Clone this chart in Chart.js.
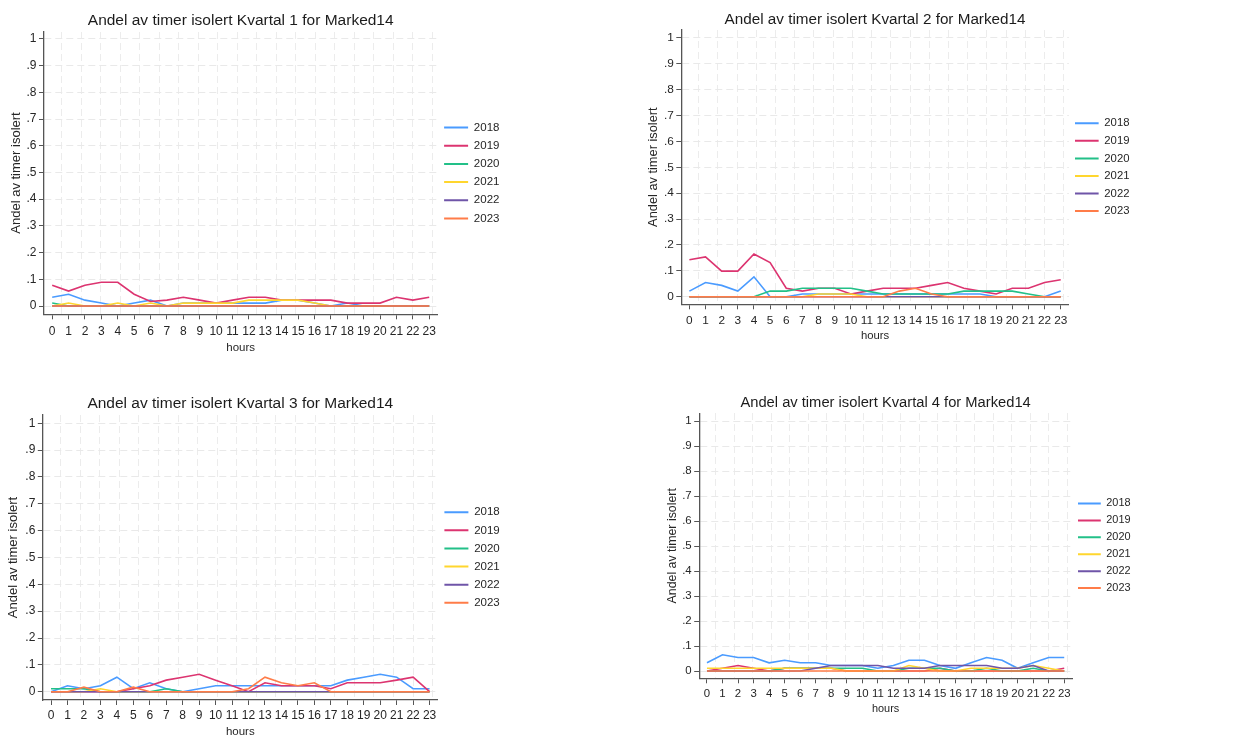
<!DOCTYPE html>
<html><head><meta charset="utf-8">
<script src="https://cdn.jsdelivr.net/npm/chart.js@4/dist/chart.umd.min.js"></script>
<style>
html,body{margin:0;padding:0;background:#fff;width:1233px;height:739px;overflow:hidden;position:relative}
canvas{position:absolute}
</style></head><body>
<canvas id="c1"></canvas><canvas id="c2"></canvas><canvas id="c3"></canvas><canvas id="c4"></canvas>
<script>
// ---------- data ----------
const hours = ['0','1','2','3','4','5','6','7','8','9','10','11','12','13','14','15','16','17','18','19','20','21','22','23'];
const years = ['2018','2019','2020','2021','2022','2023'];
const yTickValues = [0,0.1,0.2,0.3,0.4,0.5,0.6,0.7,0.8,0.9,1];
const yTickLabels = ['0','.1','.2','.3','.4','.5','.6','.7','.8','.9','1'];
const yAxisTitle = 'Andel av timer isolert';
const xAxisTitle = 'hours';
const titles = [
  'Andel av timer isolert Kvartal 1 for Marked14',
  'Andel av timer isolert Kvartal 2 for Marked14',
  'Andel av timer isolert Kvartal 3 for Marked14',
  'Andel av timer isolert Kvartal 4 for Marked14'
];

// Kvartal 1
const q1_2018 = [.033,.044,.022,.011,0,.011,.022,0,.011,.011,.011,.011,.011,.011,.022,.022,.011,0,.011,0,0,0,0,0];
const q1_2019 = [.078,.056,.078,.089,.089,.044,.017,.022,.033,.022,.011,.022,.033,.033,.022,.022,.022,.022,.011,.011,.011,.033,.022,.033];
const q1_2020 = [.011,0,0,0,0,0,0,0,0,0,0,0,0,0,0,0,0,0,0,0,0,0,0,0];
const q1_2021 = [0,.011,0,0,.011,0,.011,0,.011,.011,.011,.011,.022,.022,.022,.022,.011,0,0,0,0,0,0,0];
const q1_2022 = [0,0,0,0,0,0,0,0,0,0,0,0,0,0,0,0,0,0,0,0,0,0,0,0];
const q1_2023 = [0,0,0,0,0,0,0,0,0,0,0,0,0,0,0,0,0,0,0,0,0,0,0,0];

// Kvartal 2
const q2_2018 = [.022,.055,.044,.022,.077,0,0,.011,.011,.011,.011,.011,.011,.011,.011,.011,.011,.011,.011,0,0,0,0,.022];
const q2_2019 = [.143,.154,.099,.099,.165,.132,.033,.022,.033,.033,.011,.022,.033,.033,.033,.044,.055,.033,.022,.011,.033,.033,.055,.066];
const q2_2020 = [0,0,0,0,0,.022,.022,.033,.033,.033,.033,.022,.011,.011,.011,.011,.011,.022,.022,.022,.022,.011,0,0];
const q2_2021 = [0,0,0,0,0,0,0,0,.011,.011,.011,0,0,0,0,0,0,0,0,0,0,0,0,0];
const q2_2022 = [0,0,0,0,0,0,0,0,0,0,0,0,0,0,0,0,0,0,0,0,0,0,0,0];
const q2_2023 = [0,0,0,0,0,0,0,0,0,0,0,0,0,.022,.033,.011,0,0,0,0,0,0,0,0];

// Kvartal 3
const q3_2018 = [0,.022,.011,.022,.054,.011,.033,.011,0,.011,.022,.022,.022,.022,.022,.022,.022,.022,.043,.054,.065,.054,.011,.011];
const q3_2019 = [0,0,0,0,0,.011,.022,.043,.054,.065,.043,.022,0,.033,.022,.022,.022,.011,.033,.033,.033,.043,.054,0];
const q3_2020 = [.011,.011,.011,0,0,0,0,.011,0,0,0,0,0,0,0,0,0,0,0,0,0,0,0,0];
const q3_2021 = [0,0,0,.011,0,0,0,0,0,0,0,0,0,0,0,0,0,0,0,0,0,0,0,0];
const q3_2022 = [0,0,0,0,0,0,0,0,0,0,0,0,0,0,0,0,0,0,0,0,0,0,0,0];
const q3_2023 = [0,0,.017,0,0,.017,0,0,0,0,0,0,.011,.054,.033,.022,.033,0,0,0,0,0,0,0];

// Kvartal 4
const q4_2018 = [.033,.065,.054,.054,.033,.043,.033,.033,.022,.022,.022,.011,.022,.043,.043,.022,.011,.033,.054,.043,.011,.033,.054,.054];
const q4_2019 = [0,.011,.022,.011,0,.011,.011,.011,.011,0,0,0,0,0,0,.011,0,0,0,0,0,0,0,.011];
const q4_2020 = [0,0,0,0,0,.011,.011,.011,.011,.011,.011,0,0,.011,.011,.011,0,0,.011,0,0,.011,0,0];
const q4_2021 = [.011,.011,.011,.011,.011,.011,.011,.011,.011,0,0,0,0,.022,.011,0,0,.011,.011,.011,.011,.022,.011,0];
const q4_2022 = [0,0,0,0,0,0,0,.011,.022,.022,.022,.022,.011,.011,.011,.022,.022,.022,.022,.011,.011,.022,0,0];
const q4_2023 = [0,0,0,0,0,0,0,0,0,0,0,0,0,0,0,0,0,0,0,0,0,0,0,0];

const seriesByPanel = [
  [q1_2018,q1_2019,q1_2020,q1_2021,q1_2022,q1_2023],
  [q2_2018,q2_2019,q2_2020,q2_2021,q2_2022,q2_2023],
  [q3_2018,q3_2019,q3_2020,q3_2021,q3_2022,q3_2023],
  [q4_2018,q4_2019,q4_2020,q4_2021,q4_2022,q4_2023]
];
const colors = ['#4a9bff','#dc3470','#22c088','#ffd62e','#6f55a8','#ff7c48'];

// ---------- layout (page pixels) ----------
const specs = [
  {plotL:44,    plotR:437.4, plotT:31.7,  plotB:314.3, titleY:20.5,  yTitleX:16.5,  tickY:331.7, xTitleY:347.4, legPad:6.7, s:1,     yMin:-0.031, yMax:1.027},
  {plotL:681.3, plotR:1068.8,plotT:30,    plotB:304.3, titleY:19.5,  yTitleX:653.3, tickY:320.7, xTitleY:336.3, legPad:6.2, s:0.985, yMin:-0.029, yMax:1.030},
  {plotL:42.8,  plotR:437.8, plotT:415,   plotB:700,   titleY:404,   yTitleX:13.8,  tickY:715.7, xTitleY:732,   legPad:6.6, s:1,     yMin:-0.031, yMax:1.031},
  {plotL:699.2, plotR:1072,  plotT:413.3, plotB:678.3, titleY:403,   yTitleX:672.3, tickY:694,   xTitleY:709,   legPad:6.0, s:0.95,  yMin:-0.029, yMax:1.032}
];

const FAMILY = '"Liberation Sans", Arial, Helvetica, sans-serif';
Chart.defaults.font.family = FAMILY;
Chart.defaults.color = '#262626';
const measureCtx = document.createElement('canvas').getContext('2d');
const AXIS = '#555555';
const GRID = '#e9e9e9';

function build(idx) {
  const spec = specs[idx];
  const s = spec.s;
  const fTitle = 15.5*s, fTick = 12*s, fYTitle = 13*s, fXTitle = 11.5*s, fLeg = 11.5*s;
  const lh = f => f*1.2;
  const cl = Math.floor(spec.plotL - 46), ct = Math.floor(spec.plotT - 34);
  const cr = Math.ceil(spec.plotR + 90), cb = Math.ceil(spec.xTitleY + lh(fXTitle)/2 + 2);
  const W = cr - cl, H = cb - ct;
  const cv = document.getElementById('c' + (idx+1));
  cv.width = W; cv.height = H;
  cv.style.left = cl + 'px'; cv.style.top = ct + 'px';
  cv.style.width = W + 'px'; cv.style.height = H + 'px';

  measureCtx.font = fLeg + 'px ' + FAMILY;
  const tw = Math.max(...years.map(y => measureCtx.measureText(y).width));
  const boxW = 24*s;
  const legW = spec.legPad + boxW + fLeg/2 + tw + 10;
  const padRight = cr - spec.plotR - legW;
  const padBottom = cb - (spec.xTitleY + lh(fXTitle)/2);
  const titlePadTop = spec.titleY - ct - lh(fTitle)/2;
  const titlePadBottom = (spec.plotT - ct) - titlePadTop - lh(fTitle);
  const yWidth = spec.plotL - cl;
  const xHeight = spec.xTitleY + lh(fXTitle)/2 - spec.plotB;
  const xTickPad = spec.tickY - spec.plotB - 5 - lh(fTick)/2;
  const yTitlePadTop = spec.yTitleX - cl - lh(fYTitle)/2;

  const datasets = years.map((y, i) => ({
    label: y,
    data: seriesByPanel[idx][i],
    borderColor: colors[i],
    backgroundColor: colors[i],
    borderWidth: 1.6,
    pointRadius: 0,
    pointHoverRadius: 0,
    pointStyle: 'line',
    pointBorderColor: colors[i],
    pointBorderWidth: 2,
    tension: 0,
    fill: false,
    order: 10 - i,
    xAxisID: 'x',
    yAxisID: 'y'
  }));

  new Chart(cv, {
    type: 'line',
    data: { labels: hours, datasets },
    options: {
      responsive: false,
      animation: false,
      devicePixelRatio: 1,
      events: [],
      layout: { padding: { left: 0, top: 0, right: padRight, bottom: padBottom } },
      plugins: {
        tooltip: { enabled: false },
        title: {
          display: true, text: titles[idx], fullSize: false,
          color: '#1c1c1c',
          font: { size: fTitle, weight: 'normal', family: FAMILY, lineHeight: 1.2 },
          padding: { top: titlePadTop, bottom: titlePadBottom }
        },
        legend: {
          display: true, position: 'right', align: 'center', fullSize: false,
          labels: {
            usePointStyle: true, pointStyle: 'line', pointStyleWidth: boxW,
            padding: spec.legPad, color: '#262626',
            font: { size: fLeg, family: FAMILY },
            sort: (a, b) => a.datasetIndex - b.datasetIndex
          }
        }
      },
      scales: {
        x: {
          type: 'category', position: 'bottom', offset: true,
          grid: { display: true, drawOnChartArea: false, drawTicks: true, tickLength: 5, tickColor: AXIS, tickWidth: 1 },
          border: { display: true, color: AXIS, width: 1.3 },
          ticks: { autoSkip: false, maxRotation: 0, minRotation: 0, padding: xTickPad, color: '#262626', font: { size: fTick } },
          title: { display: true, text: xAxisTitle, color: '#262626', font: { size: fXTitle }, padding: { top: 0, bottom: 0 } },
          afterFit: sc => { sc.height = xHeight; }
        },
        xg: {
          type: 'linear', position: 'top', min: 0, max: 1, display: true,
          grid: { display: true, drawOnChartArea: true, drawTicks: false, color: '#ececec', lineWidth: 1 },
          border: { display: false, dash: [7, 4] },
          ticks: { display: false },
          afterBuildTicks: ax => {
            const t = [];
            for (let k = 0; k < 20; k++) t.push({ value: 0.045 + 0.04957 * k });
            ax.ticks = t;
          },
          afterFit: sc => { sc.height = 0; }
        },
        y: {
          type: 'linear', position: 'left', min: spec.yMin, max: spec.yMax,
          grid: { display: true, drawOnChartArea: true, drawTicks: true, tickLength: 5, color: GRID, lineWidth: 1, tickColor: AXIS, tickWidth: 1, tickBorderDash: [] },
          border: { display: true, color: AXIS, width: 1.3, dash: [7, 4] },
          afterBuildTicks: ax => { ax.ticks = yTickValues.map(v => ({ value: v })); },
          ticks: {
            padding: 2.5, color: '#262626', font: { size: fTick },
            callback: (v, i) => yTickLabels[i]
          },
          title: { display: true, text: yAxisTitle, color: '#262626', font: { size: fYTitle }, padding: { top: yTitlePadTop, bottom: 0 } },
          afterFit: sc => { sc.width = yWidth; }
        }
      }
    }
  });
}
[0,1,2,3].forEach(build);
</script>
</body></html>
